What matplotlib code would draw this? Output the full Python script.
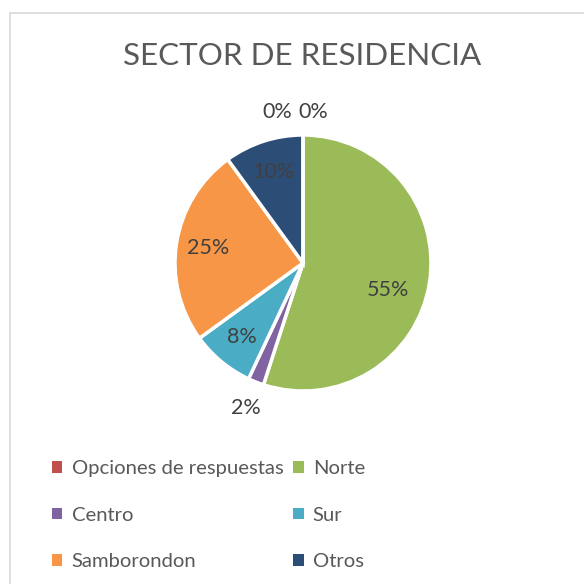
import numpy as np
import matplotlib
matplotlib.use("Agg")
import matplotlib.pyplot as plt
from matplotlib.patches import Rectangle, Patch

categories = ["Opciones de respuestas", "Norte", "Centro", "Sur", "Samborondon", "Otros", ""]
values = [0, 55, 2, 8, 25, 10, 0]
colors = ["#C0504D", "#9BBB59", "#8064A2", "#4BACC6", "#F79646", "#2C4D75", "#4F81BD"]
title = "SECTOR DE RESIDENCIA"

W = H = 584
fig = plt.figure(figsize=(5.84, 5.84), dpi=100)
fig.patch.set_facecolor("white")
fig.patches.append(Rectangle((9.5 / W, -0.1), 1.2, 1 - 12.5 / H + 0.1,
                             transform=fig.transFigure, fill=False,
                             edgecolor="#D9D9D9", linewidth=1.2, zorder=0))

cx, cy, R = 303, 263, 128
lim = 1.3
side = 2 * lim * R
ax = fig.add_axes([(cx - side / 2) / W, (H - cy - side / 2) / H, side / W, side / H])
wedges, _ = ax.pie(values, colors=colors, startangle=90, counterclock=False,
                   wedgeprops=dict(edgecolor="white", linewidth=2.5))
ax.set_xlim(-lim, lim)
ax.set_ylim(-lim, lim)
ax.set_aspect("equal")
ax.axis("off")

font = "Lato"
total = sum(values)
zero_offsets = [-0.2, 0.08]
zi = 0
for w, v in zip(wedges, values):
    mid = np.deg2rad((w.theta1 + w.theta2) / 2)
    pct = f"{round(100 * v / total)}%"
    if v == 0:
        x, y = zero_offsets[zi], 1.18
        zi += 1
    elif v / total < 0.05:
        x, y = 1.22 * np.cos(mid), 1.22 * np.sin(mid)
    elif v / total > 0.5:
        d = 0.7
        x, y = d * np.cos(mid - 0.15), d * np.sin(mid - 0.15)
    else:
        d = 0.75
        x, y = d * np.cos(mid), d * np.sin(mid)
    ax.text(x, y, pct, ha="center", va="center", fontsize=15.5,
            color="#404040", family=font)

fig.text(302 / W, 1 - 56 / H, title, ha="center", va="center",
         fontsize=22.6, color="#595959", family=font)

order = [0, 2, 4, 1, 3, 5]
handles = [Patch(facecolor=colors[i], edgecolor="none") for i in order]
labels = [categories[i] for i in order]
leg = fig.legend(handles, labels, ncol=2, loc="upper left",
                 bbox_to_anchor=(34 / W, 1 - 442 / H), frameon=False,
                 prop=dict(family=font, size=14.6), labelcolor="#595959",
                 handlelength=0.5, handleheight=0.5, handletextpad=0.45,
                 columnspacing=0.5, labelspacing=1.45)

fig.savefig("out.png", dpi=100, facecolor="white")
